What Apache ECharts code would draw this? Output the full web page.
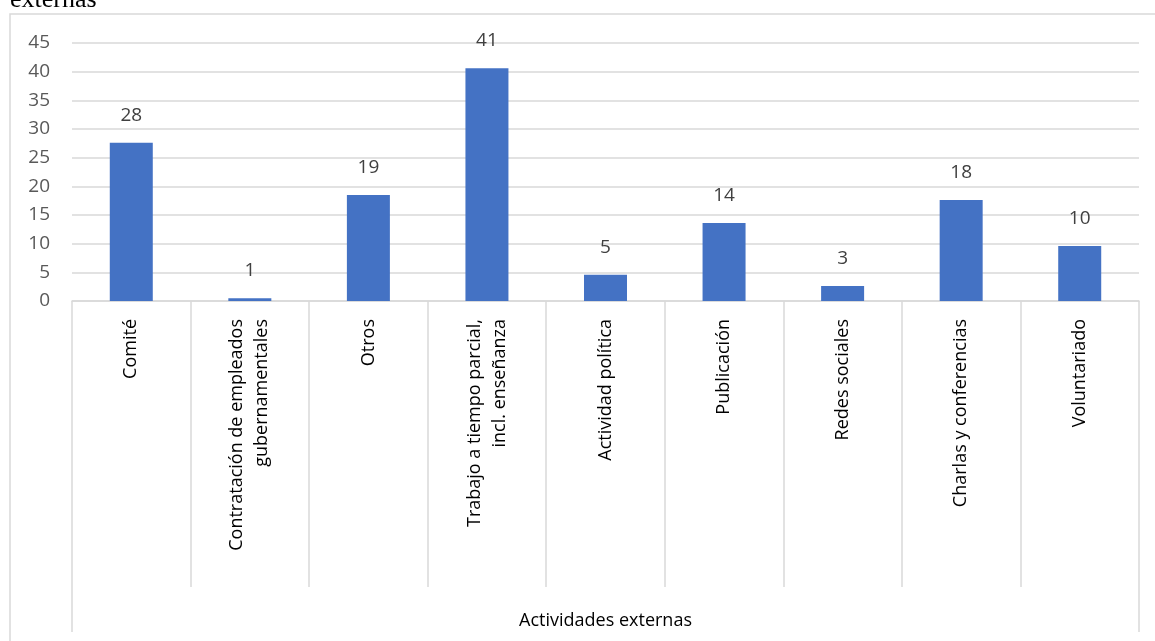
<!DOCTYPE html>
<html>
<head>
<meta charset="utf-8">
<script src="https://cdn.jsdelivr.net/npm/echarts@6/dist/echarts.min.js"></script>
<style>
  html, body { margin: 0; padding: 0; background: #fff; }
  #chart { width: 1155px; height: 641px; }
</style>
</head>
<body>
<div id="chart"></div>
<script>
// categories and values (bar heights), labels are shown rounded
const categories = [
  'Comité',
  'Contratación de empleados\ngubernamentales',
  'Otros',
  'Trabajo a tiempo parcial,\nincl. enseñanza',
  'Actividad política',
  'Publicación',
  'Redes sociales',
  'Charlas y conferencias',
  'Voluntariado'
]
const values = [27.6, 0.5, 18.5, 40.6, 4.6, 13.6, 2.6, 17.6, 9.6]
const groupLabel = ['Actividades externas']
const yTicks = { min: 0, max: 45, interval: 5 }

const font = '"Open Sans", sans-serif'
const chart = echarts.init(document.getElementById('chart'))

chart.setOption({
  animation: false,
  graphic: [
    {
      type: 'text',
      left: 10,
      top: -13,
      style: { text: 'externas', font: '26px "Liberation Serif", serif', fill: '#000' }
    },
    {
      type: 'rect',
      shape: { x: 10, y: 14, width: 1170, height: 660 },
      style: { fill: 'none', stroke: '#d9d9d9', lineWidth: 1.5 },
      z: -1
    }
  ],
  grid: {
    left: 72,
    right: 16,
    top: 43,
    bottom: 340
  },
  xAxis: [
    {
      type: 'category',
      data: categories,
      axisLine: { lineStyle: { color: '#d9d9d9', width: 1.5 } },
      axisTick: { show: true, length: 286, lineStyle: { color: '#d9d9d9', width: 1.5 } },
      axisLabel: {
        rotate: 90,
        margin: 18,
        fontSize: 18,
        fontFamily: font,
        color: '#000',
        lineHeight: 25,
        interval: 0
      }
    },
    {
      type: 'category',
      data: groupLabel,
      position: 'bottom',
      offset: 286,
      axisLine: { show: false },
      axisTick: { show: true, length: 45, lineStyle: { color: '#d9d9d9', width: 1.5 } },
      axisLabel: {
        margin: 25,
        fontSize: 18,
        fontFamily: font,
        color: '#000'
      }
    }
  ],
  yAxis: {
    type: 'value',
    min: yTicks.min,
    max: yTicks.max,
    interval: yTicks.interval,
    axisLine: { show: false },
    axisTick: { show: false },
    axisLabel: {
      margin: 22,
      fontSize: 19,
      fontFamily: font,
      color: '#595959'
    },
    splitLine: { lineStyle: { color: '#d9d9d9', width: 1.5 } }
  },
  series: [
    {
      type: 'bar',
      data: values,
      barWidth: 43,
      itemStyle: { color: '#4472c4' },
      label: {
        show: true,
        position: 'top',
        distance: 18,
        fontSize: 19,
        fontFamily: font,
        color: '#404040',
        formatter: p => Math.round(p.value)
      }
    }
  ]
})
</script>
</body>
</html>
